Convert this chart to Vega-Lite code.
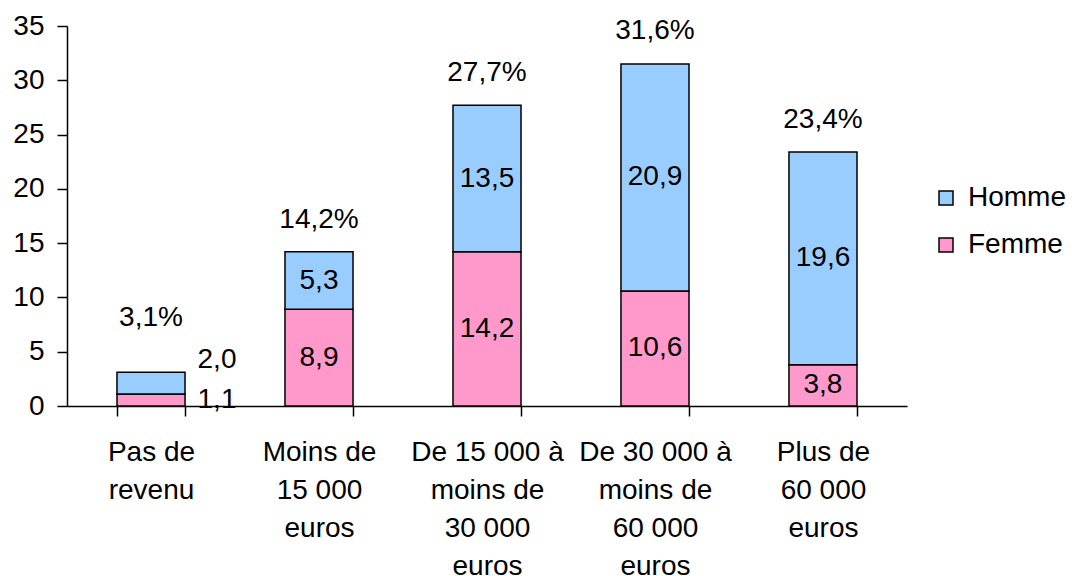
{
  "$schema": "https://vega.github.io/schema/vega-lite/v6.json",
  "width": 840,
  "height": 380,
  "autosize": {"type": "none"},
  "padding": {"left": 67, "top": 26, "right": 168, "bottom": 170},
  "config": {
    "view": {"stroke": null},
    "font": "Liberation Sans",
    "locale": {"number": {"decimal": ",", "thousands": " ", "grouping": [3], "currency": ["", " €"]}}
  },
  "datasets": {
    "parts": [
      {"cat": "Pas de\nrevenu", "sexe": "Femme", "value": 1.1},
      {"cat": "Pas de\nrevenu", "sexe": "Homme", "value": 2.0},
      {"cat": "Moins de\n15 000\neuros", "sexe": "Femme", "value": 8.9},
      {"cat": "Moins de\n15 000\neuros", "sexe": "Homme", "value": 5.3},
      {"cat": "De 15 000 à\nmoins de\n30 000\neuros", "sexe": "Femme", "value": 14.2},
      {"cat": "De 15 000 à\nmoins de\n30 000\neuros", "sexe": "Homme", "value": 13.5},
      {"cat": "De 30 000 à\nmoins de\n60 000\neuros", "sexe": "Femme", "value": 10.6},
      {"cat": "De 30 000 à\nmoins de\n60 000\neuros", "sexe": "Homme", "value": 20.9},
      {"cat": "Plus de\n60 000\neuros", "sexe": "Femme", "value": 3.8},
      {"cat": "Plus de\n60 000\neuros", "sexe": "Homme", "value": 19.6}
    ],
    "totals": [
      {"cat": "Pas de\nrevenu", "total": 3.1, "lab": "3,1%"},
      {"cat": "Moins de\n15 000\neuros", "total": 14.2, "lab": "14,2%"},
      {"cat": "De 15 000 à\nmoins de\n30 000\neuros", "total": 27.7, "lab": "27,7%"},
      {"cat": "De 30 000 à\nmoins de\n60 000\neuros", "total": 31.6, "lab": "31,6%"},
      {"cat": "Plus de\n60 000\neuros", "total": 23.4, "lab": "23,4%"}
    ]
  },
  "layer": [
    {
      "data": {"name": "parts"},
      "mark": {"type": "bar", "stroke": "black", "strokeWidth": 1.5},
      "encoding": {
        "x": {
          "field": "cat", "type": "nominal", "sort": null,
          "scale": {"paddingInner": 0.595, "paddingOuter": 0.2976},
          "axis": {
            "title": null, "labelAngle": 0,
            "labelExpr": "split(datum.label, '\\n')",
            "labelFontSize": 28, "labelColor": "black", "labelLineHeight": 38,
            "labelPadding": 22, "labelBaseline": "top", "labelLimit": 0,
            "tickBand": "extent", "tickSize": 10, "tickColor": "black", "tickWidth": 1.5,
            "domainColor": "black", "domainWidth": 1.5
          }
        },
        "y": {
          "field": "value", "type": "quantitative", "stack": "zero",
          "scale": {"domain": [0, 35], "nice": false},
          "axis": {
            "title": null, "values": [0, 5, 10, 15, 20, 25, 30, 35], "grid": false,
            "labelFontSize": 28, "labelColor": "black", "labelPadding": 13,
            "tickSize": 10, "tickColor": "black", "tickWidth": 1.5,
            "domainColor": "black", "domainWidth": 1.5
          }
        },
        "color": {
          "field": "sexe", "type": "nominal",
          "scale": {"domain": ["Homme", "Femme"], "range": ["#99CCFF", "#FF99CC"]},
          "legend": {
            "title": null, "orient": "none", "legendX": 865, "legendY": 158,
            "labelFontSize": 28, "labelColor": "black", "symbolType": "square",
            "symbolSize": 196, "symbolStrokeColor": "black", "symbolStrokeWidth": 1.5,
            "rowPadding": 19, "labelOffset": 8
          }
        },
        "order": {"field": "sexe", "sort": "ascending"}
      }
    },
    {
      "data": {"name": "parts"},
      "transform": [
        {"filter": {"not": {"field": "cat", "equal": "Pas de\nrevenu"}}},
        {"stack": "value", "groupby": ["cat"], "sort": [{"field": "sexe", "order": "ascending"}], "as": ["v0", "v1"]},
        {"fold": ["v0", "v1"], "as": ["edge", "pos"]},
        {"aggregate": [{"op": "mean", "field": "pos", "as": "mid"}], "groupby": ["cat", "sexe", "value"]}
      ],
      "mark": {"type": "text", "fontSize": 28, "color": "black"},
      "encoding": {
        "x": {"field": "cat", "type": "nominal", "sort": null},
        "y": {"field": "mid", "type": "quantitative"},
        "text": {"field": "value", "type": "quantitative", "format": ".1f"}
      }
    },
    {
      "data": {"name": "parts"},
      "transform": [
        {"filter": {"field": "cat", "equal": "Pas de\nrevenu"}},
        {"stack": "value", "groupby": ["cat"], "sort": [{"field": "sexe", "order": "ascending"}], "as": ["v0", "v1"]},
        {"fold": ["v0", "v1"], "as": ["edge", "pos"]},
        {"aggregate": [{"op": "mean", "field": "pos", "as": "mid"}], "groupby": ["cat", "sexe", "value"]},
        {"filter": {"field": "sexe", "equal": "Femme"}}
      ],
      "mark": {"type": "text", "fontSize": 28, "color": "black", "dx": 66},
      "encoding": {
        "x": {"field": "cat", "type": "nominal", "sort": null},
        "y": {"field": "mid", "type": "quantitative"},
        "text": {"field": "value", "type": "quantitative", "format": ".1f"}
      }
    },
    {
      "data": {"name": "parts"},
      "transform": [
        {"filter": {"field": "cat", "equal": "Pas de\nrevenu"}},
        {"stack": "value", "groupby": ["cat"], "sort": [{"field": "sexe", "order": "ascending"}], "as": ["v0", "v1"]},
        {"fold": ["v0", "v1"], "as": ["edge", "pos"]},
        {"aggregate": [{"op": "mean", "field": "pos", "as": "mid"}], "groupby": ["cat", "sexe", "value"]},
        {"filter": {"field": "sexe", "equal": "Homme"}}
      ],
      "mark": {"type": "text", "fontSize": 28, "color": "black", "dx": 66, "dy": -23},
      "encoding": {
        "x": {"field": "cat", "type": "nominal", "sort": null},
        "y": {"field": "mid", "type": "quantitative"},
        "text": {"field": "value", "type": "quantitative", "format": ".1f"}
      }
    },
    {
      "data": {"name": "totals"},
      "transform": [{"filter": {"not": {"field": "cat", "equal": "Pas de\nrevenu"}}}],
      "mark": {"type": "text", "fontSize": 28, "color": "black", "dy": -32},
      "encoding": {
        "x": {"field": "cat", "type": "nominal", "sort": null},
        "y": {"field": "total", "type": "quantitative"},
        "text": {"field": "lab", "type": "nominal"}
      }
    },
    {
      "data": {"name": "totals"},
      "transform": [{"filter": {"field": "cat", "equal": "Pas de\nrevenu"}}],
      "mark": {"type": "text", "fontSize": 28, "color": "black", "dy": -54},
      "encoding": {
        "x": {"field": "cat", "type": "nominal", "sort": null},
        "y": {"field": "total", "type": "quantitative"},
        "text": {"field": "lab", "type": "nominal"}
      }
    }
  ]
}
